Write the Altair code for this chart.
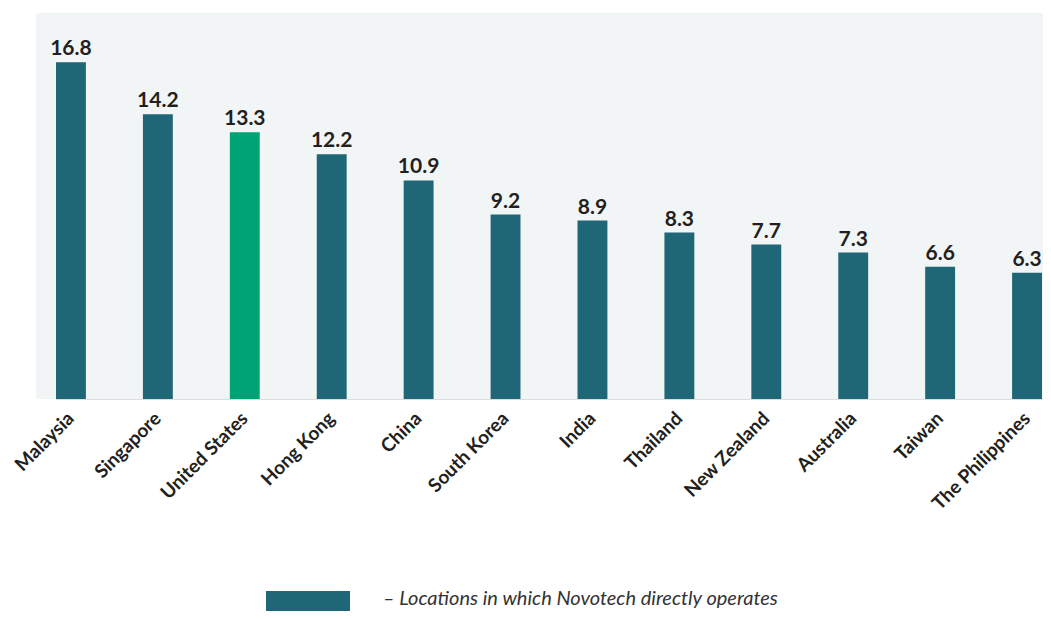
import altair as alt
import pandas as pd

countries = ["Malaysia", "Singapore", "United States", "Hong Kong", "China", "South Korea",
             "India", "Thailand", "New Zealand", "Australia", "Taiwan", "The Philippines"]
values = [16.8, 14.2, 13.3, 12.2, 10.9, 9.2, 8.9, 8.3, 7.7, 7.3, 6.6, 6.3]
group = ["direct", "direct", "other", "direct", "direct", "direct",
         "direct", "direct", "direct", "direct", "direct", "direct"]
legend_text = "– Locations in which Novotech directly operates"

TEAL = "#1f6677"
GREEN = "#00a375"
BG = "#f2f5f6"
INK = "#231f20"
FONT = "Lato"

df = pd.DataFrame({"country": countries, "value": values, "group": group})

W, H = 987, 386
RANGE_W = 986

x = alt.X("country:N", sort=countries,
          scale=alt.Scale(paddingInner=0.656, paddingOuter=0, range=[0, RANGE_W]),
          axis=alt.Axis(title=None, labelAngle=-45, labelAlign="right", labelBaseline="middle",
                        labelFont=FONT, labelFontSize=19, labelFontWeight="bold",
                        labelColor=INK, labelPadding=16, domain=False, ticks=False,
                        labelOverlap=False))
y = alt.Y("value:Q", scale=alt.Scale(domain=[0, 19.25], nice=False, zero=True), axis=None)

bg = alt.Chart(pd.DataFrame({"k": [0]})).mark_rect(color=BG).encode(
    x=alt.value(-20), x2=alt.value(W + 10), y=alt.value(0), y2=alt.value(H))

base = alt.Chart(df)
bars = base.mark_bar().encode(
    x=x, y=y,
    color=alt.Color("group:N", scale=alt.Scale(domain=["direct", "other"], range=[TEAL, GREEN]),
                    legend=None))
labels = base.mark_text(dy=-7, baseline="alphabetic", font=FONT, fontSize=21,
                        fontWeight="bold", color=INK).encode(
    x=x, y=y, text=alt.Text("value:Q", format=".1f"))

leg_rect = alt.Chart(pd.DataFrame({"k": [0]})).mark_rect(color=TEAL).encode(
    x=alt.value(210), x2=alt.value(294), y=alt.value(578), y2=alt.value(600))
leg_text = alt.Chart(pd.DataFrame({"t": [legend_text]})).mark_text(
    align="left", baseline="alphabetic", font=FONT, fontSize=20, fontStyle="italic",
    color="#333333").encode(x=alt.value(327), y=alt.value(592), text="t:N")

chart = alt.layer(bg, bars, labels, leg_rect, leg_text).properties(
    width=W, height=H,
    autosize=alt.AutoSizeParams(type="none"),
    padding={"left": 48, "top": 5, "right": 0, "bottom": 212},
).configure_view(stroke=None).configure(background="white")

chart.save("out.html", embed_options={"renderer": "svg", "actions": False})
